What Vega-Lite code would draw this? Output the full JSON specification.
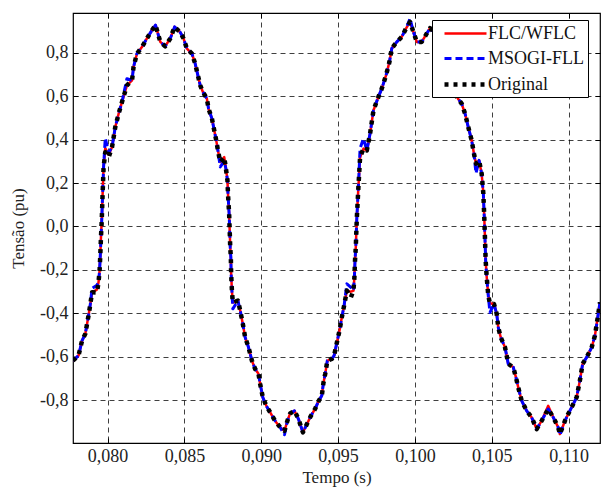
{
  "$schema": "https://vega.github.io/schema/vega-lite/v6.json",
  "width": 527,
  "height": 430,
  "autosize": "none",
  "padding": {"left": 73, "top": 13, "right": 7, "bottom": 45},
  "background": "white",
  "config": {
    "locale": {"number": {"decimal": ",", "thousands": ".", "grouping": [3], "currency": ["", ""], "minus": "-"}},
    "view": {"stroke": "#000", "strokeWidth": 1.2},
    "font": "Liberation Serif",
    "axis": {
      "labelFont": "Liberation Serif", "titleFont": "Liberation Serif",
      "labelFontSize": 18, "titleFontSize": 17, "labelColor": "#222", "titleColor": "#222",
      "titleFontWeight": "normal", "domain": false,
      "tickColor": "#000", "tickSize": -5, "tickWidth": 1,
      "gridColor": "#000", "gridOpacity": 0.75, "gridDash": [5, 4], "gridWidth": 1
    },
    "legend": {
      "labelFont": "Liberation Serif", "labelFontSize": 18, "labelColor": "#111"
    }
  },
  "data": {"values": [
    {"t":0.07775,"FLC/WFLC":-0.617,"MSOGI-FLL":-0.617,"Original":-0.617},
    {"t":0.07811,"FLC/WFLC":-0.594,"MSOGI-FLL":-0.594,"Original":-0.594},
    {"t":0.07834,"FLC/WFLC":-0.525,"MSOGI-FLL":-0.525,"Original":-0.525},
    {"t":0.07855,"FLC/WFLC":-0.494,"MSOGI-FLL":-0.494,"Original":-0.494},
    {"t":0.07876,"FLC/WFLC":-0.410,"MSOGI-FLL":-0.410,"Original":-0.410},
    {"t":0.07888,"FLC/WFLC":-0.356,"MSOGI-FLL":-0.356,"Original":-0.356},
    {"t":0.07899,"FLC/WFLC":-0.303,"MSOGI-FLL":-0.285,"Original":-0.303},
    {"t":0.07931,"FLC/WFLC":-0.290,"MSOGI-FLL":-0.270,"Original":-0.304},
    {"t":0.07941,"FLC/WFLC":-0.257,"MSOGI-FLL":-0.257,"Original":-0.257},
    {"t":0.07948,"FLC/WFLC":-0.203,"MSOGI-FLL":-0.203,"Original":-0.203},
    {"t":0.07953,"FLC/WFLC":-0.126,"MSOGI-FLL":-0.126,"Original":-0.126},
    {"t":0.07957,"FLC/WFLC":-0.049,"MSOGI-FLL":-0.049,"Original":-0.049},
    {"t":0.07962,"FLC/WFLC":0.028,"MSOGI-FLL":0.028,"Original":0.028},
    {"t":0.07967,"FLC/WFLC":0.135,"MSOGI-FLL":0.135,"Original":0.135},
    {"t":0.07974,"FLC/WFLC":0.273,"MSOGI-FLL":0.273,"Original":0.273},
    {"t":0.07985,"FLC/WFLC":0.360,"MSOGI-FLL":0.406,"Original":0.341},
    {"t":0.08007,"FLC/WFLC":0.330,"MSOGI-FLL":0.340,"Original":0.319},
    {"t":0.08029,"FLC/WFLC":0.365,"MSOGI-FLL":0.365,"Original":0.365},
    {"t":0.08050,"FLC/WFLC":0.457,"MSOGI-FLL":0.457,"Original":0.457},
    {"t":0.08072,"FLC/WFLC":0.519,"MSOGI-FLL":0.519,"Original":0.519},
    {"t":0.08094,"FLC/WFLC":0.573,"MSOGI-FLL":0.573,"Original":0.573},
    {"t":0.08126,"FLC/WFLC":0.649,"MSOGI-FLL":0.680,"Original":0.649},
    {"t":0.08159,"FLC/WFLC":0.672,"MSOGI-FLL":0.672,"Original":0.672},
    {"t":0.08169,"FLC/WFLC":0.734,"MSOGI-FLL":0.734,"Original":0.734},
    {"t":0.08191,"FLC/WFLC":0.795,"MSOGI-FLL":0.795,"Original":0.795},
    {"t":0.08224,"FLC/WFLC":0.826,"MSOGI-FLL":0.826,"Original":0.826},
    {"t":0.08256,"FLC/WFLC":0.865,"MSOGI-FLL":0.865,"Original":0.865},
    {"t":0.08289,"FLC/WFLC":0.903,"MSOGI-FLL":0.903,"Original":0.903},
    {"t":0.08312,"FLC/WFLC":0.926,"MSOGI-FLL":0.926,"Original":0.926},
    {"t":0.08343,"FLC/WFLC":0.849,"MSOGI-FLL":0.849,"Original":0.849},
    {"t":0.08375,"FLC/WFLC":0.829,"MSOGI-FLL":0.829,"Original":0.829},
    {"t":0.08408,"FLC/WFLC":0.865,"MSOGI-FLL":0.865,"Original":0.865},
    {"t":0.08436,"FLC/WFLC":0.918,"MSOGI-FLL":0.918,"Original":0.918},
    {"t":0.08473,"FLC/WFLC":0.893,"MSOGI-FLL":0.893,"Original":0.893},
    {"t":0.08494,"FLC/WFLC":0.865,"MSOGI-FLL":0.865,"Original":0.865},
    {"t":0.08516,"FLC/WFLC":0.818,"MSOGI-FLL":0.818,"Original":0.818},
    {"t":0.08549,"FLC/WFLC":0.795,"MSOGI-FLL":0.795,"Original":0.795},
    {"t":0.08570,"FLC/WFLC":0.749,"MSOGI-FLL":0.749,"Original":0.749},
    {"t":0.08585,"FLC/WFLC":0.703,"MSOGI-FLL":0.703,"Original":0.703},
    {"t":0.08603,"FLC/WFLC":0.649,"MSOGI-FLL":0.649,"Original":0.649},
    {"t":0.08620,"FLC/WFLC":0.619,"MSOGI-FLL":0.619,"Original":0.619},
    {"t":0.08646,"FLC/WFLC":0.588,"MSOGI-FLL":0.588,"Original":0.588},
    {"t":0.08657,"FLC/WFLC":0.542,"MSOGI-FLL":0.542,"Original":0.542},
    {"t":0.08679,"FLC/WFLC":0.496,"MSOGI-FLL":0.496,"Original":0.496},
    {"t":0.08694,"FLC/WFLC":0.442,"MSOGI-FLL":0.442,"Original":0.442},
    {"t":0.08707,"FLC/WFLC":0.396,"MSOGI-FLL":0.396,"Original":0.396},
    {"t":0.08718,"FLC/WFLC":0.350,"MSOGI-FLL":0.350,"Original":0.350},
    {"t":0.08733,"FLC/WFLC":0.296,"MSOGI-FLL":0.274,"Original":0.296},
    {"t":0.08759,"FLC/WFLC":0.319,"MSOGI-FLL":0.300,"Original":0.319},
    {"t":0.08770,"FLC/WFLC":0.266,"MSOGI-FLL":0.266,"Original":0.266},
    {"t":0.08780,"FLC/WFLC":0.212,"MSOGI-FLL":0.212,"Original":0.212},
    {"t":0.08783,"FLC/WFLC":0.158,"MSOGI-FLL":0.158,"Original":0.158},
    {"t":0.08787,"FLC/WFLC":0.105,"MSOGI-FLL":0.105,"Original":0.105},
    {"t":0.08791,"FLC/WFLC":0.058,"MSOGI-FLL":0.058,"Original":0.058},
    {"t":0.08793,"FLC/WFLC":0.012,"MSOGI-FLL":0.012,"Original":0.012},
    {"t":0.08796,"FLC/WFLC":-0.049,"MSOGI-FLL":-0.049,"Original":-0.049},
    {"t":0.08798,"FLC/WFLC":-0.095,"MSOGI-FLL":-0.095,"Original":-0.095},
    {"t":0.08802,"FLC/WFLC":-0.141,"MSOGI-FLL":-0.141,"Original":-0.141},
    {"t":0.08804,"FLC/WFLC":-0.218,"MSOGI-FLL":-0.218,"Original":-0.218},
    {"t":0.08809,"FLC/WFLC":-0.295,"MSOGI-FLL":-0.295,"Original":-0.295},
    {"t":0.08815,"FLC/WFLC":-0.350,"MSOGI-FLL":-0.379,"Original":-0.350},
    {"t":0.08848,"FLC/WFLC":-0.341,"MSOGI-FLL":-0.341,"Original":-0.341},
    {"t":0.08863,"FLC/WFLC":-0.387,"MSOGI-FLL":-0.387,"Original":-0.387},
    {"t":0.08880,"FLC/WFLC":-0.448,"MSOGI-FLL":-0.448,"Original":-0.448},
    {"t":0.08895,"FLC/WFLC":-0.510,"MSOGI-FLL":-0.510,"Original":-0.510},
    {"t":0.08917,"FLC/WFLC":-0.556,"MSOGI-FLL":-0.556,"Original":-0.556},
    {"t":0.08939,"FLC/WFLC":-0.617,"MSOGI-FLL":-0.617,"Original":-0.617},
    {"t":0.08960,"FLC/WFLC":-0.655,"MSOGI-FLL":-0.655,"Original":-0.655},
    {"t":0.08982,"FLC/WFLC":-0.678,"MSOGI-FLL":-0.678,"Original":-0.678},
    {"t":0.08993,"FLC/WFLC":-0.725,"MSOGI-FLL":-0.725,"Original":-0.725},
    {"t":0.09010,"FLC/WFLC":-0.786,"MSOGI-FLL":-0.786,"Original":-0.786},
    {"t":0.09032,"FLC/WFLC":-0.824,"MSOGI-FLL":-0.824,"Original":-0.824},
    {"t":0.09058,"FLC/WFLC":-0.855,"MSOGI-FLL":-0.855,"Original":-0.855},
    {"t":0.09090,"FLC/WFLC":-0.894,"MSOGI-FLL":-0.894,"Original":-0.894},
    {"t":0.09123,"FLC/WFLC":-0.924,"MSOGI-FLL":-0.924,"Original":-0.924},
    {"t":0.09151,"FLC/WFLC":-0.940,"MSOGI-FLL":-0.958,"Original":-0.940},
    {"t":0.09170,"FLC/WFLC":-0.894,"MSOGI-FLL":-0.894,"Original":-0.894},
    {"t":0.09188,"FLC/WFLC":-0.860,"MSOGI-FLL":-0.860,"Original":-0.860},
    {"t":0.09216,"FLC/WFLC":-0.848,"MSOGI-FLL":-0.848,"Original":-0.848},
    {"t":0.09242,"FLC/WFLC":-0.886,"MSOGI-FLL":-0.886,"Original":-0.886},
    {"t":0.09271,"FLC/WFLC":-0.947,"MSOGI-FLL":-0.947,"Original":-0.947},
    {"t":0.09297,"FLC/WFLC":-0.909,"MSOGI-FLL":-0.909,"Original":-0.909},
    {"t":0.09323,"FLC/WFLC":-0.871,"MSOGI-FLL":-0.871,"Original":-0.871},
    {"t":0.09351,"FLC/WFLC":-0.838,"MSOGI-FLL":-0.838,"Original":-0.838},
    {"t":0.09372,"FLC/WFLC":-0.805,"MSOGI-FLL":-0.805,"Original":-0.805},
    {"t":0.09394,"FLC/WFLC":-0.778,"MSOGI-FLL":-0.778,"Original":-0.778},
    {"t":0.09404,"FLC/WFLC":-0.722,"MSOGI-FLL":-0.722,"Original":-0.722},
    {"t":0.09416,"FLC/WFLC":-0.678,"MSOGI-FLL":-0.678,"Original":-0.678},
    {"t":0.09430,"FLC/WFLC":-0.617,"MSOGI-FLL":-0.617,"Original":-0.617},
    {"t":0.09459,"FLC/WFLC":-0.609,"MSOGI-FLL":-0.609,"Original":-0.609},
    {"t":0.09474,"FLC/WFLC":-0.594,"MSOGI-FLL":-0.594,"Original":-0.594},
    {"t":0.09492,"FLC/WFLC":-0.534,"MSOGI-FLL":-0.534,"Original":-0.534},
    {"t":0.09509,"FLC/WFLC":-0.479,"MSOGI-FLL":-0.479,"Original":-0.479},
    {"t":0.09524,"FLC/WFLC":-0.418,"MSOGI-FLL":-0.418,"Original":-0.418},
    {"t":0.09539,"FLC/WFLC":-0.364,"MSOGI-FLL":-0.364,"Original":-0.364},
    {"t":0.09557,"FLC/WFLC":-0.295,"MSOGI-FLL":-0.264,"Original":-0.295},
    {"t":0.09583,"FLC/WFLC":-0.300,"MSOGI-FLL":-0.280,"Original":-0.326},
    {"t":0.09600,"FLC/WFLC":-0.295,"MSOGI-FLL":-0.295,"Original":-0.295},
    {"t":0.09606,"FLC/WFLC":-0.234,"MSOGI-FLL":-0.234,"Original":-0.234},
    {"t":0.09610,"FLC/WFLC":-0.157,"MSOGI-FLL":-0.157,"Original":-0.157},
    {"t":0.09615,"FLC/WFLC":-0.095,"MSOGI-FLL":-0.095,"Original":-0.095},
    {"t":0.09622,"FLC/WFLC":0.043,"MSOGI-FLL":0.043,"Original":0.043},
    {"t":0.09632,"FLC/WFLC":0.181,"MSOGI-FLL":0.181,"Original":0.181},
    {"t":0.09643,"FLC/WFLC":0.319,"MSOGI-FLL":0.360,"Original":0.319},
    {"t":0.09665,"FLC/WFLC":0.358,"MSOGI-FLL":0.404,"Original":0.358},
    {"t":0.09687,"FLC/WFLC":0.350,"MSOGI-FLL":0.350,"Original":0.350},
    {"t":0.09708,"FLC/WFLC":0.427,"MSOGI-FLL":0.427,"Original":0.427},
    {"t":0.09730,"FLC/WFLC":0.534,"MSOGI-FLL":0.534,"Original":0.534},
    {"t":0.09762,"FLC/WFLC":0.596,"MSOGI-FLL":0.596,"Original":0.596},
    {"t":0.09784,"FLC/WFLC":0.634,"MSOGI-FLL":0.634,"Original":0.634},
    {"t":0.09812,"FLC/WFLC":0.696,"MSOGI-FLL":0.696,"Original":0.696},
    {"t":0.09834,"FLC/WFLC":0.757,"MSOGI-FLL":0.757,"Original":0.757},
    {"t":0.09849,"FLC/WFLC":0.819,"MSOGI-FLL":0.819,"Original":0.819},
    {"t":0.09882,"FLC/WFLC":0.849,"MSOGI-FLL":0.849,"Original":0.849},
    {"t":0.09914,"FLC/WFLC":0.872,"MSOGI-FLL":0.872,"Original":0.872},
    {"t":0.09942,"FLC/WFLC":0.911,"MSOGI-FLL":0.911,"Original":0.911},
    {"t":0.09968,"FLC/WFLC":0.941,"MSOGI-FLL":0.957,"Original":0.941},
    {"t":0.09990,"FLC/WFLC":0.895,"MSOGI-FLL":0.895,"Original":0.895},
    {"t":0.10012,"FLC/WFLC":0.849,"MSOGI-FLL":0.849,"Original":0.849},
    {"t":0.10044,"FLC/WFLC":0.849,"MSOGI-FLL":0.849,"Original":0.849},
    {"t":0.10077,"FLC/WFLC":0.888,"MSOGI-FLL":0.888,"Original":0.888},
    {"t":0.10098,"FLC/WFLC":0.912,"MSOGI-FLL":0.912,"Original":0.912},
    {"t":0.10131,"FLC/WFLC":0.889,"MSOGI-FLL":0.889,"Original":0.889},
    {"t":0.10163,"FLC/WFLC":0.843,"MSOGI-FLL":0.843,"Original":0.843},
    {"t":0.10196,"FLC/WFLC":0.801,"MSOGI-FLL":0.801,"Original":0.801},
    {"t":0.10228,"FLC/WFLC":0.751,"MSOGI-FLL":0.751,"Original":0.751},
    {"t":0.10248,"FLC/WFLC":0.696,"MSOGI-FLL":0.696,"Original":0.696},
    {"t":0.10272,"FLC/WFLC":0.596,"MSOGI-FLL":0.596,"Original":0.596},
    {"t":0.10304,"FLC/WFLC":0.565,"MSOGI-FLL":0.565,"Original":0.565},
    {"t":0.10326,"FLC/WFLC":0.519,"MSOGI-FLL":0.519,"Original":0.519},
    {"t":0.10347,"FLC/WFLC":0.457,"MSOGI-FLL":0.457,"Original":0.457},
    {"t":0.10369,"FLC/WFLC":0.396,"MSOGI-FLL":0.396,"Original":0.396},
    {"t":0.10384,"FLC/WFLC":0.335,"MSOGI-FLL":0.335,"Original":0.335},
    {"t":0.10397,"FLC/WFLC":0.289,"MSOGI-FLL":0.244,"Original":0.289},
    {"t":0.10417,"FLC/WFLC":0.304,"MSOGI-FLL":0.304,"Original":0.304},
    {"t":0.10434,"FLC/WFLC":0.243,"MSOGI-FLL":0.243,"Original":0.243},
    {"t":0.10445,"FLC/WFLC":0.151,"MSOGI-FLL":0.151,"Original":0.151},
    {"t":0.10451,"FLC/WFLC":0.043,"MSOGI-FLL":0.043,"Original":0.043},
    {"t":0.10456,"FLC/WFLC":-0.064,"MSOGI-FLL":-0.064,"Original":-0.064},
    {"t":0.10460,"FLC/WFLC":-0.157,"MSOGI-FLL":-0.157,"Original":-0.157},
    {"t":0.10467,"FLC/WFLC":-0.234,"MSOGI-FLL":-0.234,"Original":-0.234},
    {"t":0.10477,"FLC/WFLC":-0.318,"MSOGI-FLL":-0.318,"Original":-0.318},
    {"t":0.10488,"FLC/WFLC":-0.354,"MSOGI-FLL":-0.396,"Original":-0.354},
    {"t":0.10514,"FLC/WFLC":-0.356,"MSOGI-FLL":-0.356,"Original":-0.356},
    {"t":0.10532,"FLC/WFLC":-0.402,"MSOGI-FLL":-0.402,"Original":-0.402},
    {"t":0.10542,"FLC/WFLC":-0.464,"MSOGI-FLL":-0.464,"Original":-0.464},
    {"t":0.10558,"FLC/WFLC":-0.510,"MSOGI-FLL":-0.510,"Original":-0.510},
    {"t":0.10586,"FLC/WFLC":-0.556,"MSOGI-FLL":-0.556,"Original":-0.556},
    {"t":0.10607,"FLC/WFLC":-0.632,"MSOGI-FLL":-0.632,"Original":-0.632},
    {"t":0.10640,"FLC/WFLC":-0.648,"MSOGI-FLL":-0.648,"Original":-0.648},
    {"t":0.10657,"FLC/WFLC":-0.694,"MSOGI-FLL":-0.694,"Original":-0.694},
    {"t":0.10672,"FLC/WFLC":-0.740,"MSOGI-FLL":-0.740,"Original":-0.740},
    {"t":0.10694,"FLC/WFLC":-0.801,"MSOGI-FLL":-0.801,"Original":-0.801},
    {"t":0.10727,"FLC/WFLC":-0.848,"MSOGI-FLL":-0.848,"Original":-0.848},
    {"t":0.10759,"FLC/WFLC":-0.878,"MSOGI-FLL":-0.878,"Original":-0.878},
    {"t":0.10792,"FLC/WFLC":-0.932,"MSOGI-FLL":-0.932,"Original":-0.932},
    {"t":0.10824,"FLC/WFLC":-0.894,"MSOGI-FLL":-0.894,"Original":-0.894},
    {"t":0.10867,"FLC/WFLC":-0.825,"MSOGI-FLL":-0.840,"Original":-0.840},
    {"t":0.10900,"FLC/WFLC":-0.878,"MSOGI-FLL":-0.878,"Original":-0.878},
    {"t":0.10932,"FLC/WFLC":-0.924,"MSOGI-FLL":-0.924,"Original":-0.924},
    {"t":0.10943,"FLC/WFLC":-0.955,"MSOGI-FLL":-0.960,"Original":-0.955},
    {"t":0.10976,"FLC/WFLC":-0.894,"MSOGI-FLL":-0.894,"Original":-0.894},
    {"t":0.10997,"FLC/WFLC":-0.863,"MSOGI-FLL":-0.863,"Original":-0.863},
    {"t":0.11030,"FLC/WFLC":-0.817,"MSOGI-FLL":-0.817,"Original":-0.817},
    {"t":0.11052,"FLC/WFLC":-0.786,"MSOGI-FLL":-0.786,"Original":-0.786},
    {"t":0.11073,"FLC/WFLC":-0.709,"MSOGI-FLL":-0.709,"Original":-0.709},
    {"t":0.11091,"FLC/WFLC":-0.632,"MSOGI-FLL":-0.632,"Original":-0.632},
    {"t":0.11117,"FLC/WFLC":-0.602,"MSOGI-FLL":-0.602,"Original":-0.602},
    {"t":0.11150,"FLC/WFLC":-0.556,"MSOGI-FLL":-0.556,"Original":-0.556},
    {"t":0.11171,"FLC/WFLC":-0.502,"MSOGI-FLL":-0.502,"Original":-0.502},
    {"t":0.11186,"FLC/WFLC":-0.433,"MSOGI-FLL":-0.433,"Original":-0.433},
    {"t":0.11204,"FLC/WFLC":-0.349,"MSOGI-FLL":-0.349,"Original":-0.349}
  ]},
  "transform": [{"fold": ["FLC/WFLC", "MSOGI-FLL", "Original"], "as": ["serie", "v"]}],
  "resolve": {"axis": {"x": "independent", "y": "independent"}},
  "layer": [
    {
      "mark": {"type": "line", "clip": true, "strokeCap": "butt", "strokeJoin": "round"},
      "encoding": {
        "x": {"field": "t", "type": "quantitative",
          "scale": {"domain": [0.07775, 0.11204], "nice": false, "zero": false},
          "axis": {"orient": "bottom", "title": "Tempo (s)", "values": [0.080, 0.085, 0.090, 0.095, 0.100, 0.105, 0.110], "format": ".3f", "grid": true, "labelPadding": 9, "titlePadding": 4,
            "labelFont": "Liberation Serif", "titleFont": "Liberation Serif"}},
        "y": {"field": "v", "type": "quantitative",
          "scale": {"domain": [-0.996, 0.982], "nice": false, "zero": false},
          "axis": {"orient": "left", "title": "Tensão (pu)", "values": [-0.8, -0.6, -0.4, -0.2, 0, 0.2, 0.4, 0.6, 0.8], "format": ".1f", "grid": true, "labelPadding": 10, "titlePadding": 12,
            "labelFont": "Liberation Serif", "titleFont": "Liberation Serif"}},
        "color": {"field": "serie", "type": "nominal",
          "scale": {"domain": ["FLC/WFLC", "MSOGI-FLL", "Original"], "range": ["#ff0000", "#0000ff", "#000000"]},
          "legend": {"title": null, "orient": "none", "legendX": 359, "legendY": 7,
            "symbolType": "M-2.333,0H2.333", "symbolSize": 324, "symbolOffset": 19, "symbolFillColor": "transparent",
            "labelOffset": 11, "labelFont": "Liberation Serif", "strokeColor": "#000", "fillColor": "#fff", "padding": 3, "rowPadding": 5, "labelLimit": 200}},
        "strokeDash": {"field": "serie", "type": "nominal",
          "scale": {"domain": ["FLC/WFLC", "MSOGI-FLL", "Original"], "range": [[1, 0], [7, 4], [4, 5]]},
          "legend": {"title": null, "orient": "none", "legendX": 359, "legendY": 7,
            "symbolType": "M-2.333,0H2.333", "symbolSize": 324, "symbolOffset": 19, "symbolFillColor": "transparent",
            "labelOffset": 11, "labelFont": "Liberation Serif", "strokeColor": "#000", "fillColor": "#fff", "padding": 3, "rowPadding": 5, "labelLimit": 200}},
        "strokeWidth": {"field": "serie", "type": "ordinal",
          "scale": {"type": "ordinal", "domain": ["FLC/WFLC", "MSOGI-FLL", "Original"], "range": [2.5, 3, 4.5]},
          "legend": {"title": null, "orient": "none", "legendX": 359, "legendY": 7,
            "symbolType": "M-2.333,0H2.333", "symbolSize": 324, "symbolOffset": 19, "symbolFillColor": "transparent",
            "labelOffset": 11, "labelFont": "Liberation Serif", "strokeColor": "#000", "fillColor": "#fff", "padding": 3, "rowPadding": 5, "labelLimit": 200}}
      }
    },
    {
      "mark": {"type": "line", "opacity": 0},
      "encoding": {
        "x": {"field": "t", "type": "quantitative",
          "scale": {"domain": [0.07775, 0.11204], "nice": false, "zero": false},
          "axis": {"orient": "top", "title": null, "labels": false, "grid": false, "values": [0.080, 0.085, 0.090, 0.095, 0.100, 0.105, 0.110]}},
        "y": {"field": "v", "type": "quantitative",
          "scale": {"domain": [-0.996, 0.982], "nice": false, "zero": false},
          "axis": {"orient": "right", "title": null, "labels": false, "grid": false, "values": [-0.8, -0.6, -0.4, -0.2, 0, 0.2, 0.4, 0.6, 0.8]}},
        "detail": {"field": "serie", "type": "nominal"}
      }
    }
  ]
}
